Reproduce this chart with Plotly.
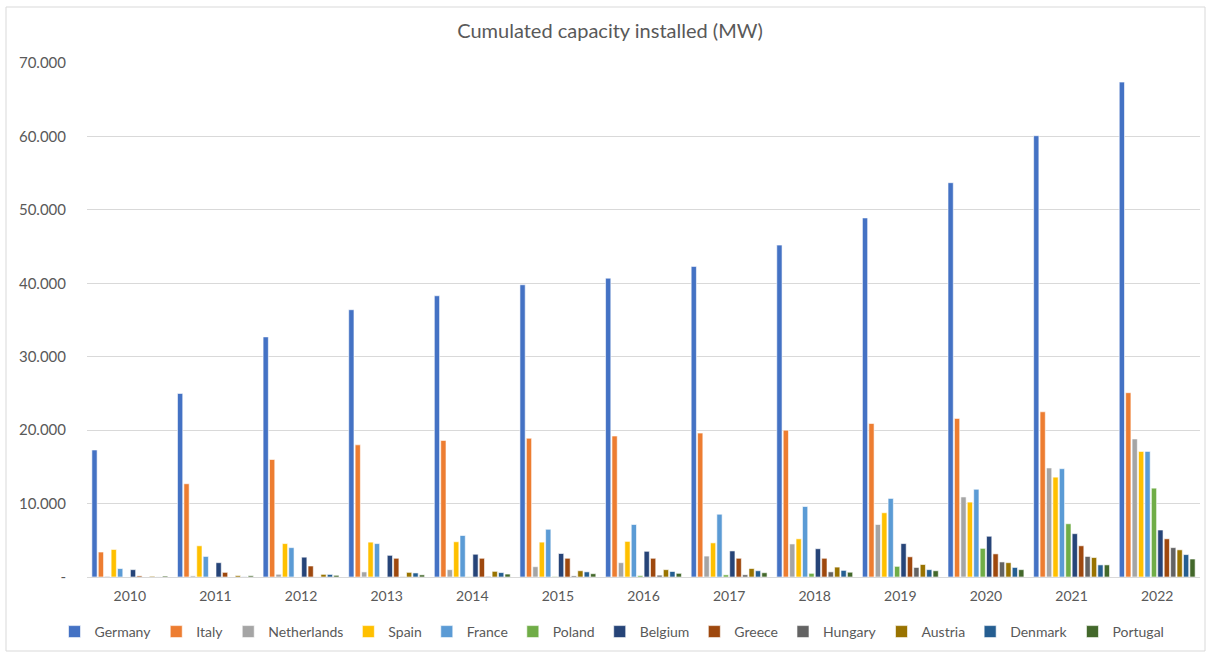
import plotly.graph_objects as go

years = ["2010", "2011", "2012", "2013", "2014", "2015", "2016", "2017", "2018", "2019", "2020", "2021", "2022"]

germany = [17300, 25000, 32700, 36400, 38300, 39800, 40700, 42300, 45200, 48900, 53700, 60100, 67400]
italy = [3400, 12700, 16000, 18000, 18600, 18900, 19200, 19600, 20000, 20900, 21600, 22500, 25100]
netherlands = [90, 150, 370, 690, 1000, 1400, 1950, 2850, 4500, 7150, 10900, 14850, 18800]
spain = [3750, 4250, 4550, 4750, 4800, 4750, 4850, 4650, 5200, 8750, 10200, 13600, 17100]
france = [1150, 2800, 4000, 4550, 5650, 6500, 7150, 8550, 9600, 10700, 11950, 14750, 17100]
poland = [0, 0, 0, 0, 30, 70, 190, 290, 500, 1450, 3900, 7250, 12100]
belgium = [1000, 1950, 2700, 2950, 3100, 3200, 3500, 3550, 3850, 4550, 5550, 5900, 6400]
greece = [150, 630, 1500, 2550, 2550, 2550, 2550, 2550, 2550, 2750, 3150, 4250, 5200]
hungary = [0, 0, 10, 30, 80, 150, 250, 300, 700, 1300, 2050, 2800, 4000]
austria = [100, 190, 360, 630, 770, 850, 1000, 1150, 1350, 1700, 1950, 2650, 3700]
denmark = [10, 20, 350, 550, 600, 700, 750, 850, 900, 1000, 1300, 1650, 3050]
portugal = [130, 170, 230, 290, 400, 450, 500, 580, 650, 850, 1000, 1650, 2450]

countries = ["Germany", "Italy", "Netherlands", "Spain", "France", "Poland",
             "Belgium", "Greece", "Hungary", "Austria", "Denmark", "Portugal"]
series = [germany, italy, netherlands, spain, france, poland,
          belgium, greece, hungary, austria, denmark, portugal]
colors = ["#4472C4", "#ED7D31", "#A5A5A5", "#FFC000", "#5B9BD5", "#70AD47",
          "#264478", "#9E480E", "#636363", "#997300", "#255E91", "#43682B"]

y_tickvals = [0, 10000, 20000, 30000, 40000, 50000, 60000, 70000]
y_ticktext = ["-", "10.000", "20.000", "30.000", "40.000", "50.000", "60.000", "70.000"]

FONT = "Lato, 'Open Sans', sans-serif"

fig = go.Figure()
for name, vals, col in zip(countries, series, colors):
    fig.add_trace(go.Bar(
        x=years, y=vals, name=name,
        marker=dict(color=col, line=dict(color="white", width=0.6)),
    ))

W, H = 1208, 653
L, R, T, B = 87, 8, 63, 76
pw, ph = W - L - R, H - T - B

def px_x(x):
    return (x - L) / pw

def px_y(y):
    return (H - B - y) / ph

fig.update_layout(
    width=W, height=H,
    margin=dict(l=L, r=R, t=T, b=B, autoexpand=False),
    paper_bgcolor="white", plot_bgcolor="white",
    barmode="group", bargap=0.1, bargroupgap=0.18,
    font=dict(family=FONT, color="#595959", size=14),
    title=dict(text="Cumulated capacity installed (MW)", x=0.505, xref="container",
               y=1 - 31 / H, yref="container", yanchor="middle",
               font=dict(size=20, color="#595959", family=FONT)),
    showlegend=True,
    legend=dict(orientation="h", x=px_x(612), xanchor="center",
                y=px_y(632), yanchor="middle",
                font=dict(size=14, color="#595959", family=FONT),
                itemwidth=30, tracegroupgap=0, traceorder="normal"),
    xaxis=dict(showgrid=False, showline=True, linecolor="#D9D9D9", linewidth=1,
               ticks="", tickangle=0, ticklabelstandoff=6,
               tickfont=dict(size=14, color="#595959"), type="category"),
    yaxis=dict(range=[0, 70000], tickvals=y_tickvals, ticktext=y_ticktext,
               showgrid=True, gridcolor="#D9D9D9", gridwidth=1, zeroline=False,
               showline=False, ticks="", ticklabelstandoff=20,
               tickfont=dict(size=15, color="#595959")),
    shapes=[dict(type="rect", xref="paper", yref="paper",
                 x0=px_x(6), x1=px_x(1205), y0=px_y(651), y1=px_y(7),
                 line=dict(color="#D9D9D9", width=1), fillcolor="rgba(0,0,0,0)", layer="below")],
)

fig.write_html("out.html", config={"displayModeBar": False},
               post_script="document.body.style.margin='0';document.body.style.padding='0';document.body.style.overflow='hidden';")
